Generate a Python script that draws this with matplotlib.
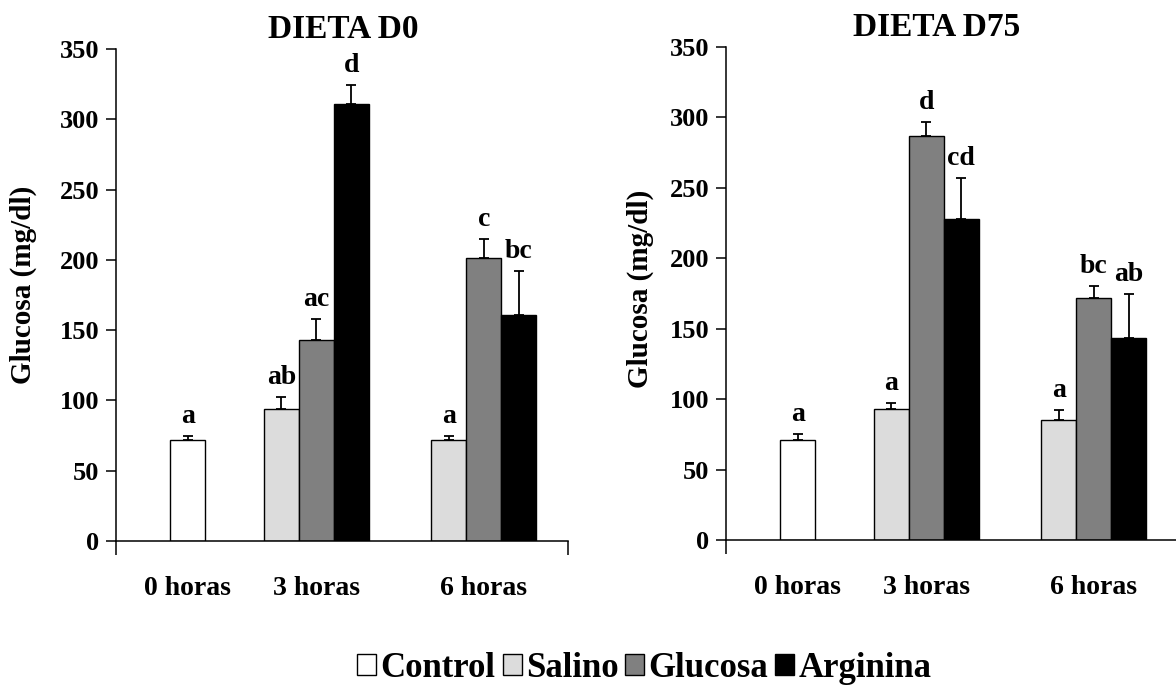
import numpy as np
import matplotlib.pyplot as plt
from matplotlib.patches import Patch

plt.rcParams['font.family'] = ['Liberation Serif', 'DejaVu Serif']
plt.rcParams['font.weight'] = 'bold'

grupos = ['0 horas', '3 horas', '6 horas']
series = ['Control', 'Salino', 'Glucosa', 'Arginina']
colores = ['white', '#dcdcdc', '#808080', 'black']
nan = np.nan

# glucosa media (mg/dl) por dieta, serie y tiempo
d0_media = {
    'Control': [72, nan, nan],
    'Salino': [nan, 94, 72],
    'Glucosa': [nan, 143, 201],
    'Arginina': [nan, 311, 161],
}
d0_error = {
    'Control': [2.5, nan, nan],
    'Salino': [nan, 8.5, 2.5],
    'Glucosa': [nan, 15, 14],
    'Arginina': [nan, 13.5, 31],
}
d0_letras = {
    'Control': ['a', '', ''],
    'Salino': ['', 'ab', 'a'],
    'Glucosa': ['', 'ac', 'c'],
    'Arginina': ['', 'd', 'bc'],
}

d75_media = {
    'Control': [71, nan, nan],
    'Salino': [nan, 93, 85],
    'Glucosa': [nan, 287, 172],
    'Arginina': [nan, 228, 143],
}
d75_error = {
    'Control': [4.5, nan, nan],
    'Salino': [nan, 4, 7],
    'Glucosa': [nan, 9.5, 8.5],
    'Arginina': [nan, 29, 31.5],
}
d75_letras = {
    'Control': ['a', '', ''],
    'Salino': ['', 'a', 'a'],
    'Glucosa': ['', 'd', 'bc'],
    'Arginina': ['', 'cd', 'ab'],
}

paneles = [
    ('DIETA D0', d0_media, d0_error, d0_letras),
    ('DIETA D75', d75_media, d75_error, d75_letras),
]

centros = [2.05, 5.72, 10.5]
xmax = 12.9
ancho = 1.0

fig = plt.figure(figsize=(11.76, 6.85), dpi=100)
ejes = [fig.add_axes([0.0986, 0.2102, 0.3843, 0.7183]),
        fig.add_axes([0.6173, 0.2117, 0.3843, 0.7200])]
pos_titulo = [0.504, 0.467]
pos_ylabel = [(-0.175, 0.52), (-0.16, 0.51)]

for ax, (titulo, media, error, letras), tx, yl in zip(ejes, paneles, pos_titulo, pos_ylabel):
    for g, c in enumerate(centros):
        presentes = [s for s in series if not np.isnan(media[s][g])]
        n = len(presentes)
        for k, s in enumerate(presentes):
            x = c + (k - (n - 1) / 2) * ancho
            v = media[s][g]
            e = error[s][g]
            ax.bar(x, v, width=ancho, color=colores[series.index(s)],
                   edgecolor='black', linewidth=1.0, zorder=2)
            ax.errorbar(x, v, yerr=[[0], [e]], fmt='none', ecolor='black',
                        elinewidth=1.3, capsize=3.8, capthick=1.3, zorder=3)
            ax.annotate(letras[s][g], (x, v + e), xytext=(0, 5),
                        textcoords='offset points', ha='center', va='bottom',
                        fontsize=20, fontweight='bold')

    ax.set_xlim(0, xmax)
    ax.set_ylim(0, 350)
    ax.set_yticks(np.arange(0, 351, 50))
    ax.tick_params(axis='y', direction='out', length=7, width=1.1,
                   labelsize=19, pad=5)
    ax.set_xticks([0, xmax])
    ax.set_xticklabels([])
    ax.tick_params(axis='x', which='major', direction='out', length=10, width=1.1)
    ax.set_xticks(centros, minor=True)
    ax.set_xticklabels(grupos, minor=True)
    ax.tick_params(axis='x', which='minor', length=0, labelsize=20, pad=25)
    for lab in ax.get_xticklabels(minor=True) + ax.get_yticklabels():
        lab.set_fontweight('bold')

    ax.spines['top'].set_visible(False)
    ax.spines['right'].set_visible(False)
    ax.spines['left'].set_linewidth(1.1)
    ax.spines['bottom'].set_linewidth(1.1)

    ax.set_title(titulo, x=tx, fontsize=24, fontweight='bold', pad=8)
    ax.set_ylabel('Glucosa (mg/dl)', fontsize=21, fontweight='bold')
    ax.yaxis.set_label_coords(*yl)

handles = [Patch(facecolor=col, edgecolor='black', linewidth=1.0) for col in colores]
fig.legend(handles, series, loc='center', bbox_to_anchor=(0.548, 0.024), ncol=4,
           frameon=False, prop={'size': 25, 'weight': 'bold'},
           handlelength=0.55, handleheight=0.55, handletextpad=0.12,
           columnspacing=0.2, borderpad=0.1)

fig.savefig('out.png', dpi=100)
